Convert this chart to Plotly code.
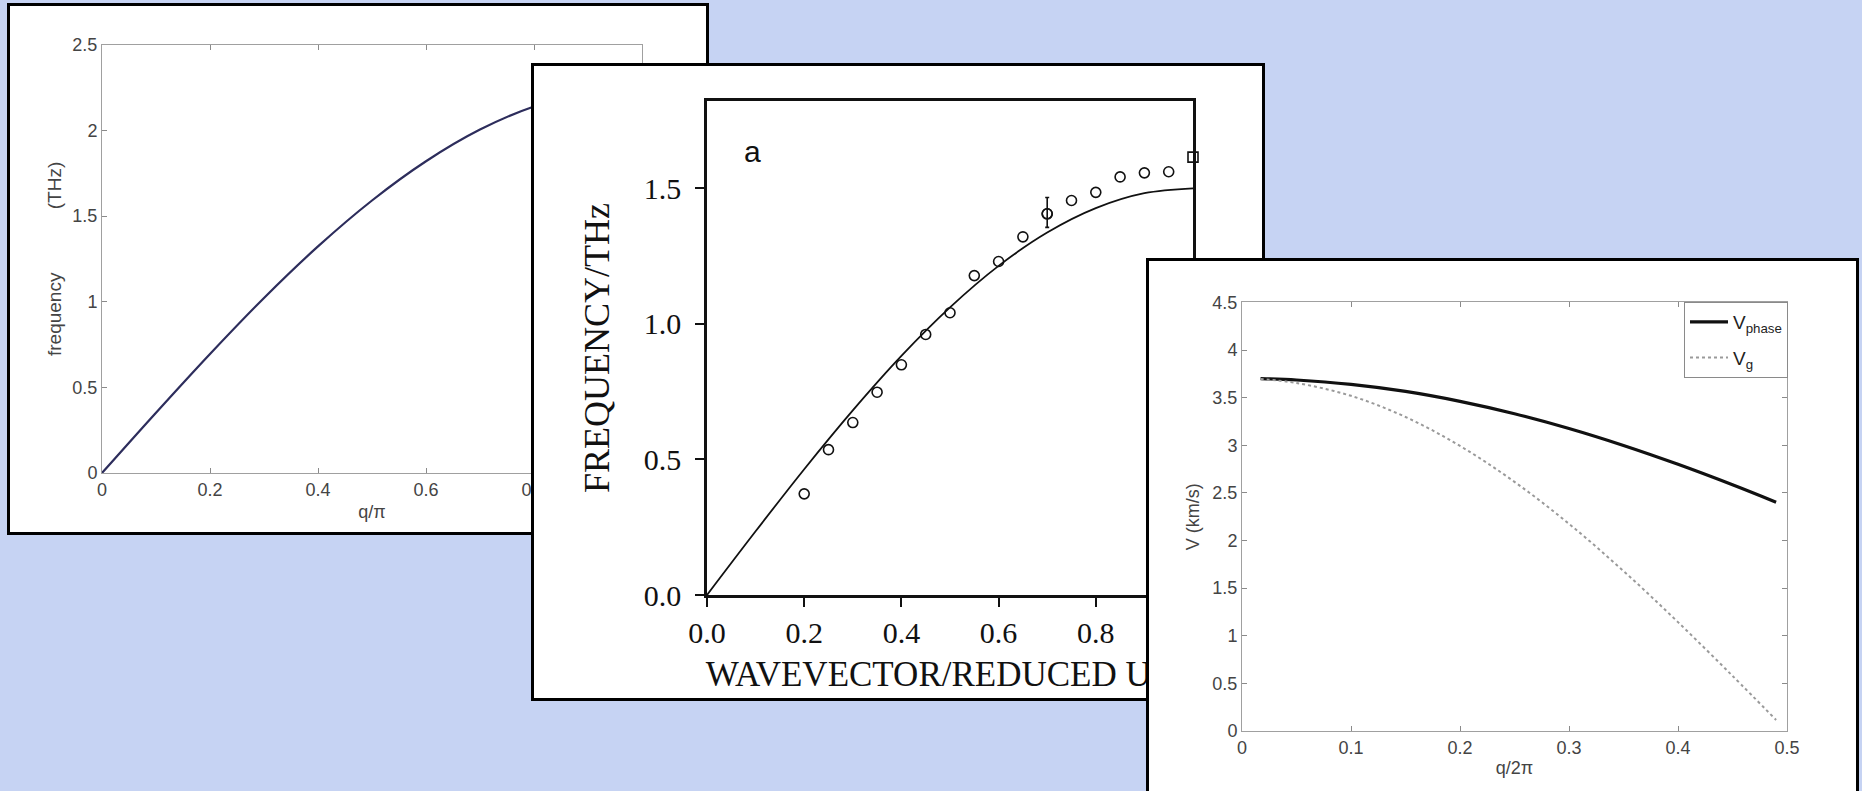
import plotly.graph_objects as go

W, H = 1862, 791

# ---------------- data ----------------
# Panel 1: frequency (THz) vs q/pi
p1_q = [0.0, 0.1, 0.2, 0.3, 0.4, 0.5, 0.6, 0.7, 0.8, 0.9, 1.0]
p1_freq = [0.0, 0.352, 0.695, 1.022, 1.323, 1.591, 1.820, 2.005, 2.140, 2.222, 2.25]

# Panel 2: FREQUENCY/THz vs WAVEVECTOR/REDUCED UNITS
p2_fit_x = [0.0, 0.1, 0.2, 0.3, 0.4, 0.5, 0.6, 0.7, 0.8, 0.9, 1.0]
p2_fit_y = [0.0, 0.235, 0.464, 0.681, 0.882, 1.061, 1.214, 1.337, 1.427, 1.482, 1.50]
p2_exp_x = [0.20, 0.25, 0.30, 0.35, 0.40, 0.45, 0.50, 0.55, 0.60, 0.65, 0.70,
            0.75, 0.80, 0.85, 0.90, 0.95]
p2_exp_y = [0.373, 0.536, 0.636, 0.748, 0.849, 0.961, 1.041, 1.178, 1.230, 1.321,
            1.406, 1.455, 1.485, 1.542, 1.557, 1.561]
p2_err_x = [0.70]
p2_err_y = [1.406]
p2_err_plus = [0.06]
p2_err_minus = [0.05]
p2_sq_x = [1.0]
p2_sq_y = [1.615]

# Panel 3: V (km/s) vs q/2pi
p3_q = [0.017, 0.05, 0.10, 0.15, 0.20, 0.25, 0.30, 0.35, 0.40, 0.45, 0.49]
p3_vphase = [3.700, 3.685, 3.639, 3.565, 3.461, 3.331, 3.176, 2.998, 2.800, 2.585, 2.402]
p3_vg = [3.695, 3.654, 3.519, 3.297, 2.993, 2.616, 2.175, 1.680, 1.143, 0.579, 0.116]


# ---------------- layout helpers (pixel boxes -> paper fractions) ----------------
def xdom(left, right):
    return [left / W, right / W]


def ydom(top, bottom):
    return [max(0.0, 1 - bottom / H), min(1.0, 1 - top / H)]


frame1 = (9.5, 6, 706, 532)
data1 = (102, 44.8, 642, 473)
frame2 = (534, 66, 1262, 698)
data2 = (707, 101, 1193, 595)
frame3 = (1149, 261, 1856, 792)
data3 = (1242, 302.4, 1787, 731)

SANS = "Liberation Sans, Arial, sans-serif"
SERIF = "Liberation Serif, Times New Roman, serif"

fig = go.Figure()

# empty placeholder traces so that the white panel frames exist as subplots
for xa, ya in (("x", "y"), ("x3", "y3"), ("x5", "y5")):
    fig.add_trace(go.Scatter(x=[None], y=[None], mode="lines", xaxis=xa, yaxis=ya,
                             showlegend=False, hoverinfo="skip"))

# Panel 1 curve
fig.add_trace(go.Scatter(x=p1_q, y=p1_freq, mode="lines", line=dict(color="#2d2d5c", width=2.2, shape="spline"),
                         xaxis="x2", yaxis="y2", showlegend=False))

# Panel 2
fig.add_trace(go.Scatter(x=p2_fit_x, y=p2_fit_y, mode="lines", line=dict(color="#111", width=1.8, shape="spline"),
                         xaxis="x4", yaxis="y4", showlegend=False))
fig.add_trace(go.Scatter(x=p2_exp_x, y=p2_exp_y, mode="markers",
                         marker=dict(symbol="circle-open", size=10, color="#111", line=dict(width=1.6)),
                         xaxis="x4", yaxis="y4", showlegend=False, cliponaxis=False))
fig.add_trace(go.Scatter(x=p2_err_x, y=p2_err_y, mode="markers",
                         marker=dict(symbol="circle-open", size=10, color="#111", line=dict(width=1.6)),
                         error_y=dict(type="data", array=p2_err_plus, arrayminus=p2_err_minus, symmetric=False,
                                      color="#111", thickness=1.6, width=2),
                         xaxis="x4", yaxis="y4", showlegend=False, cliponaxis=False))
fig.add_trace(go.Scatter(x=p2_sq_x, y=p2_sq_y, mode="markers",
                         marker=dict(symbol="square-open", size=10, color="#111", line=dict(width=1.6)),
                         xaxis="x4", yaxis="y4", showlegend=False, cliponaxis=False))

# Panel 3
fig.add_trace(go.Scatter(x=p3_q, y=p3_vphase, mode="lines", name="V<sub>phase</sub>", legendgroup="vp",
                         line=dict(color="#111", width=3.2, shape="spline"), xaxis="x6", yaxis="y6"))
fig.add_trace(go.Scatter(x=p3_q, y=p3_vg, mode="lines", name="V<sub>g</sub>", legendgroup="vg",
                         line=dict(color="#9a9a9a", width=2, dash="dot", shape="spline"), xaxis="x6", yaxis="y6"))

frame_common = dict(showline=True, mirror=True, linecolor="black", linewidth=3, showgrid=False,
                    zeroline=False, showticklabels=False, ticks="", range=[0, 1], fixedrange=True,
                    automargin=False)

matlab_tick = dict(ticks="inside", ticklen=5, tickcolor="#8a8a8a", showline=True, linecolor="#a0a0a0",
                   linewidth=1, mirror="allticks", showgrid=False, zeroline=False, automargin=False,
                   tickfont=dict(family=SANS, size=18, color="#444"))

serif_tick = dict(ticks="outside", ticklen=9, tickwidth=2, tickcolor="#111", showline=True, linecolor="#111",
                  linewidth=2.5, mirror=True, showgrid=False, zeroline=False, tickformat=".1f",
                  automargin=False, tickfont=dict(family=SERIF, size=30, color="#111"))

fig.update_layout(
    width=W, height=H, autosize=False,
    margin=dict(l=0, r=0, t=0, b=0, pad=0, autoexpand=False),
    paper_bgcolor="#c6d3f3", plot_bgcolor="white",
    # frame 1
    xaxis=dict(domain=xdom(frame1[0], frame1[2]), anchor="y", **frame_common),
    yaxis=dict(domain=ydom(frame1[1], frame1[3]), anchor="x", **frame_common),
    # data 1
    xaxis2=dict(domain=xdom(data1[0], data1[2]), anchor="y2", range=[0, 1], tick0=0, dtick=0.2,
                title=dict(text="q/π", font=dict(family=SANS, size=18, color="#444"), standoff=6),
                **matlab_tick),
    yaxis2=dict(domain=ydom(data1[1], data1[3]), anchor="x2", range=[0, 2.5], tick0=0, dtick=0.5,
                title=dict(text="frequency" + "\u00a0" * 12 + "(THz)",
                           font=dict(family=SANS, size=19, color="#444"), standoff=5),
                **matlab_tick),
    # frame 2 (bottom label carried by its own axis so panel 3 covers it)
    xaxis3=dict(domain=xdom(frame2[0], frame2[2]), anchor="y3", showline=True, mirror=True, linecolor="black",
                linewidth=3, showgrid=False, zeroline=False, ticks="", range=[0, 1], fixedrange=True,
                automargin=False,
                tickvals=[0.595], ticktext=["WAVEVECTOR/REDUCED UNITS"], ticklabelposition="inside",
                ticklabelstandoff=9, tickfont=dict(family=SERIF, size=35, color="#111")),
    yaxis3=dict(domain=ydom(frame2[1], frame2[3]), anchor="x3", **frame_common),
    # data 2
    xaxis4=dict(domain=xdom(data2[0], data2[2]), anchor="y4", range=[0, 1], tick0=0, dtick=0.2,
                ticklabelstandoff=0, **serif_tick),
    yaxis4=dict(domain=ydom(data2[1], data2[3]), anchor="x4", range=[0, 1.822], tick0=0, dtick=0.5,
                ticklabelstandoff=8,
                title=dict(text="FREQUENCY/THz", font=dict(family=SERIF, size=36, color="#111"), standoff=24),
                **serif_tick),
    # frame 3
    xaxis5=dict(domain=xdom(frame3[0], frame3[2]), anchor="y5", **frame_common),
    yaxis5=dict(domain=ydom(frame3[1], frame3[3]), anchor="x5", **frame_common),
    # data 3
    xaxis6=dict(domain=xdom(data3[0], data3[2]), anchor="y6", range=[0, 0.5], tick0=0, dtick=0.1,
                title=dict(text="q/2π", font=dict(family=SANS, size=18, color="#444"), standoff=4),
                **matlab_tick),
    yaxis6=dict(domain=ydom(data3[1], data3[3]), anchor="x6", range=[0, 4.5], tick0=0, dtick=0.5,
                title=dict(text="V (km/s)", font=dict(family=SANS, size=18, color="#444"), standoff=8),
                **matlab_tick),
    legend=dict(x=1788 / W, xanchor="right", y=1 - 302 / H, yanchor="top", bgcolor="white",
                bordercolor="#8a8a8a", borderwidth=1, font=dict(family=SANS, size=19, color="#222"),
                itemwidth=38, tracegroupgap=8),
    annotations=[dict(text="a", x=752 / W, y=1 - 152 / H, xref="paper", yref="paper", showarrow=False,
                      font=dict(family=SANS, size=30, color="#111"), xanchor="center", yanchor="middle")],
)

fig.write_html("out.html",
               post_script="document.body.style.margin='0px';document.documentElement.style.overflow='hidden';")
